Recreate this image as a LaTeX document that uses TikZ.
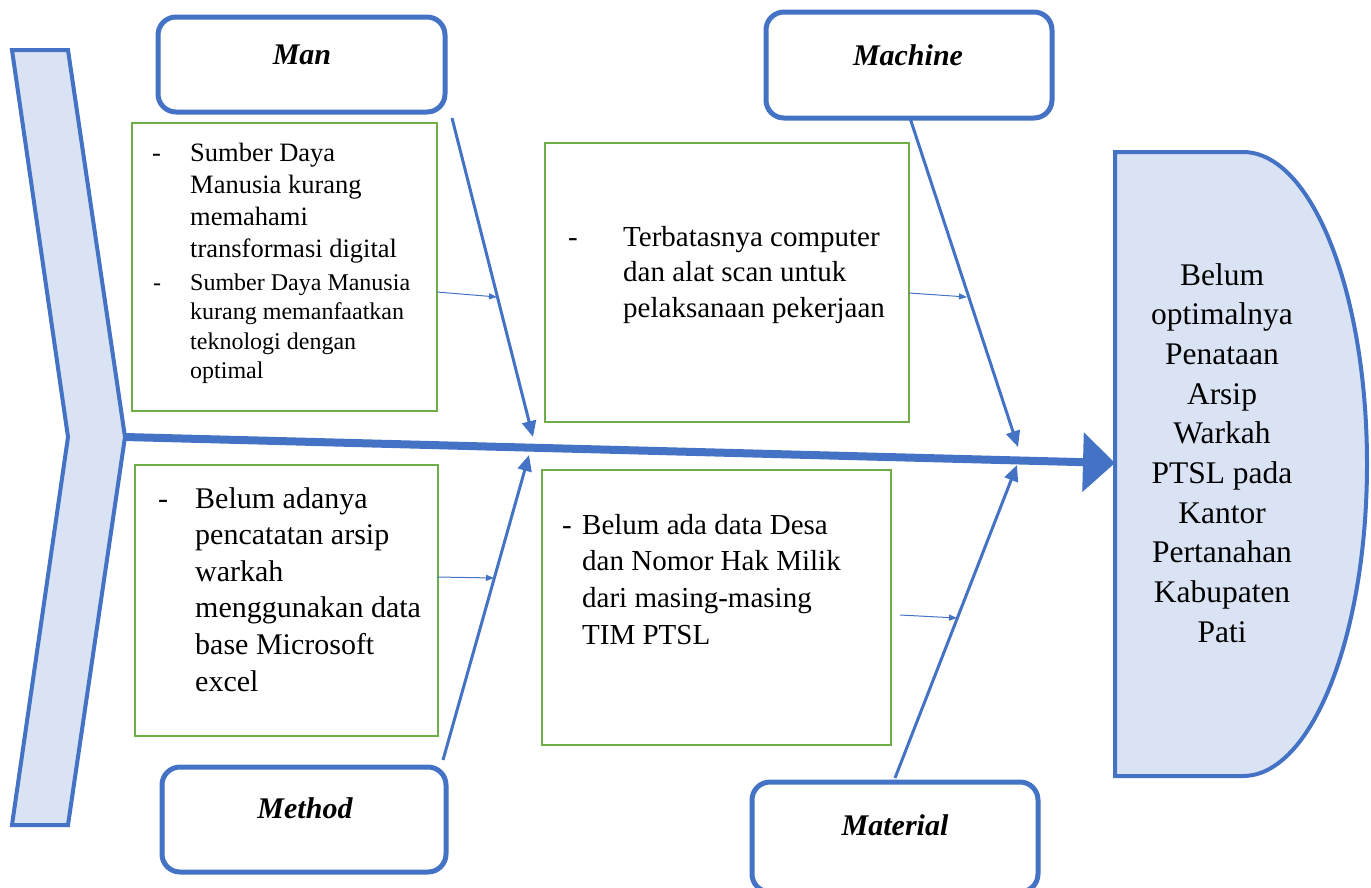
\documentclass[tikz,border=0pt]{standalone}
\usepackage{fontspec}
\setmainfont{Liberation Serif}
\usetikzlibrary{arrows.meta}
\definecolor{fbblue}{HTML}{4472C4}
\definecolor{fbfill}{HTML}{DAE3F3}
\definecolor{fbgreen}{HTML}{70AD47}
\newcommand{\txtlines}[2][l]{\begin{tabular}[t]{@{}#1@{}}#2\end{tabular}}
\begin{document}
\begin{tikzpicture}[x=1pt,y=-1pt,
  catbox/.style={draw=fbblue, line width=5pt, rounded corners=18pt, fill=white, inner sep=0},
  causebox/.style={draw=fbgreen, line width=1.5pt, inner sep=0},
  lbl/.style={font=\fontsize{30}{36}\selectfont\bfseries\itshape, inner sep=0},
  txt/.style={inner sep=0, anchor=base west},
  branch/.style={draw=fbblue, line width=3pt, -{Triangle[length=16pt,width=14pt]}},
  smallarr/.style={draw=fbblue, line width=1pt, -{Triangle[length=8pt,width=6pt]}},
]
\useasboundingbox (0,0) rectangle (1371,887);
% chevron tail
\draw[draw=fbblue, fill=fbfill, line width=4pt, line join=miter]
  (12,50) -- (68,50) -- (125,437) -- (68,825) -- (12,825) -- (68,437) -- cycle;
\coordinate (tail) at (125,437);
% head
\draw[draw=fbblue, fill=fbfill, line width=4pt]
  (1115,152) -- (1243,152) .. controls (1311.5,152) and (1367,291.7) .. (1367,464)
  .. controls (1367,636.3) and (1311.5,776) .. (1243,776) -- (1115,776) -- cycle;
\coordinate (headL) at (1115,463);
\node[inner sep=0, anchor=base, font=\fontsize{31.5}{39.7}\selectfont] (headtxt) at (1222,285)
  {\txtlines[c]{Belum\\optimalnya\\Penataan\\Arsip\\Warkah\\PTSL pada\\Kantor\\Pertanahan\\Kabupaten\\Pati}};
% category boxes
\node[catbox, minimum width=287pt, minimum height=95pt] (manbox) at (301.5,64.5) {};
\node[lbl] (manlbl) at (302,55) {Man};
\node[catbox, minimum width=286pt, minimum height=106pt] (machbox) at (909,65) {};
\node[lbl] (machlbl) at (908,55) {Machine};
\node[catbox, minimum width=284pt, minimum height=105pt] (methbox) at (304,819.5) {};
\node[lbl] (methlbl) at (305,808) {Method};
\node[catbox, minimum width=286pt, minimum height=110pt] (matbox) at (895,837) {};
\node[lbl] (matlbl) at (895,825) {Material};
% cause boxes
\node[causebox, minimum width=305pt, minimum height=288pt] (manc) at (284.5,267) {};
\node[causebox, minimum width=364pt, minimum height=279pt] (machc) at (727,282.5) {};
\node[causebox, minimum width=303pt, minimum height=271pt] (methc) at (286.5,600.5) {};
\node[causebox, minimum width=349pt, minimum height=275pt] (matc) at (716.5,607.5) {};
% texts
\node[txt, font=\fontsize{26.5}{32.3}\selectfont] (mand1) at (152,161) {-};
\node[txt, font=\fontsize{26.5}{32.3}\selectfont] (mant1) at (190,161)
  {\txtlines{Sumber Daya\\Manusia kurang\\memahami\\transformasi digital}};
\node[txt, font=\fontsize{24}{29.5}\selectfont] (mand2) at (153,290) {-};
\node[txt, font=\fontsize{24}{29.5}\selectfont] (mant2) at (190,290)
  {\txtlines{Sumber Daya Manusia\\kurang memanfaatkan\\teknologi dengan\\optimal}};
\node[txt, font=\fontsize{29}{35.5}\selectfont] (machd) at (568,246) {-};
\node[txt, font=\fontsize{29}{35.5}\selectfont] (macht) at (623,246)
  {\txtlines{Terbatasnya computer\\dan alat scan untuk\\pelaksanaan pekerjaan}};
\node[txt, font=\fontsize{30}{36.6}\selectfont] (methd) at (158,508) {-};
\node[txt, font=\fontsize{30}{36.6}\selectfont] (metht) at (195,508)
  {\txtlines{Belum adanya\\pencatatan arsip\\warkah\\menggunakan data\\base Microsoft\\excel}};
\node[txt, font=\fontsize{29}{36.7}\selectfont] (matd) at (562,534) {-};
\node[txt, font=\fontsize{29}{36.7}\selectfont] (matt) at (582,534)
  {\txtlines{Belum ada data Desa\\dan Nomor Hak Milik\\dari masing-masing\\TIM PTSL}};
% spine
\draw[fbblue, line width=8pt, -{Triangle[length=32pt,width=58pt]}] (tail) -- (headL);
% branches
\coordinate (manS) at (452,118);   \coordinate (manE) at (533,437);
\coordinate (methS) at (443,760);  \coordinate (methE) at (529,455);
\coordinate (machS) at (910,118);  \coordinate (machE) at (1018,447);
\coordinate (matS) at (895,778);   \coordinate (matE) at (1017,465);
\draw[branch] (manS) -- (manE);
\draw[branch] (methS) -- (methE);
\draw[branch] (machS) -- (machE);
\draw[branch] (matS) -- (matE);
% small arrows
\coordinate (a1s) at (437,292); \coordinate (a1e) at (497,297);
\coordinate (a2s) at (437,577); \coordinate (a2e) at (494,578);
\coordinate (a3s) at (909,293); \coordinate (a3e) at (967,297);
\coordinate (a4s) at (900,615); \coordinate (a4e) at (957,618);
\draw[smallarr] (a1s) -- (a1e);
\draw[smallarr] (a2s) -- (a2e);
\draw[smallarr] (a3s) -- (a3e);
\draw[smallarr] (a4s) -- (a4e);
\end{tikzpicture}
\end{document}
